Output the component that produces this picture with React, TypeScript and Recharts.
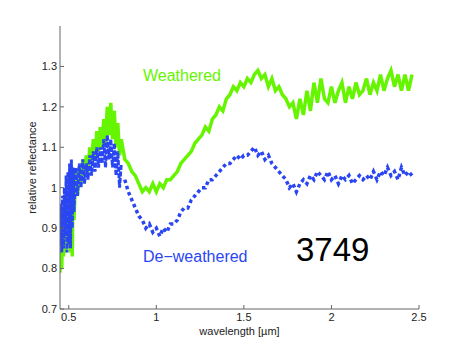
import { LineChart, Line, XAxis, YAxis } from "recharts";

// wavelength grid (µm): dense part of the visible range, then the rest
const wlVis = [
  0.45, 0.455, 0.46, 0.465, 0.47, 0.475, 0.48, 0.485, 0.49, 0.495, 0.5, 0.505,
  0.51, 0.515, 0.52, 0.525, 0.53, 0.54, 0.55, 0.56, 0.57, 0.58, 0.59, 0.6,
  0.61, 0.62, 0.63, 0.64, 0.65, 0.66, 0.67, 0.68, 0.69, 0.7, 0.71, 0.72,
  0.73, 0.74, 0.75, 0.76, 0.77, 0.78, 0.79, 0.8,
];
const wlNir = [
  0.82, 0.84, 0.86, 0.88, 0.9, 0.92, 0.94, 0.96, 0.98, 1.0, 1.02, 1.04,
  1.06, 1.08, 1.1, 1.12, 1.14, 1.16, 1.18, 1.2, 1.22, 1.24, 1.26, 1.28,
  1.3, 1.32, 1.34, 1.36, 1.38, 1.4, 1.42, 1.44, 1.46, 1.48, 1.5, 1.52,
  1.54, 1.56, 1.58, 1.6, 1.62, 1.64, 1.66, 1.68, 1.7, 1.72, 1.74, 1.76,
  1.78, 1.8, 1.82, 1.84, 1.86, 1.88, 1.9, 1.92, 1.94, 1.96, 1.98, 2.0,
  2.02, 2.04, 2.06, 2.08, 2.1, 2.12, 2.14, 2.16, 2.18, 2.2, 2.22, 2.24,
  2.26, 2.28, 2.3, 2.32, 2.34, 2.36, 2.38, 2.4, 2.42, 2.44, 2.46,
];

const weatheredVis = [
  0.79, 0.88, 0.8, 0.92, 0.83, 0.95, 0.84, 0.97, 0.86, 0.99, 0.85, 1.0,
  0.84, 1.01, 0.83, 1.02, 0.92, 1.04, 0.98, 1.05, 1.01, 1.07, 1.03, 1.08,
  1.04, 1.1, 1.06, 1.12, 1.07, 1.14, 1.09, 1.15, 1.1, 1.17, 1.11, 1.2,
  1.13, 1.21, 1.12, 1.19, 1.1, 1.16, 1.08, 1.12,
];
const weatheredNir = [
  1.07, 1.06, 1.04, 1.03, 1.01, 0.99, 1.0, 0.99, 1.01, 0.99, 1.01, 1.0,
  1.02, 1.02, 1.03, 1.04, 1.06, 1.07, 1.08, 1.09, 1.11, 1.12, 1.13, 1.15,
  1.14, 1.17, 1.18, 1.2, 1.19, 1.22, 1.23, 1.25, 1.24, 1.26, 1.25, 1.27,
  1.26, 1.28, 1.29, 1.27, 1.28, 1.25, 1.27, 1.24, 1.25, 1.23, 1.22, 1.2,
  1.21, 1.17, 1.22, 1.18, 1.24, 1.19, 1.26, 1.21, 1.27, 1.22, 1.21, 1.25,
  1.21, 1.24, 1.26, 1.21, 1.25, 1.22, 1.26, 1.23, 1.24, 1.27, 1.23, 1.26,
  1.24, 1.28, 1.24, 1.27, 1.29, 1.25, 1.28, 1.24, 1.28, 1.24, 1.28,
];

const deweatheredVis = [
  0.86, 0.96, 0.84, 0.98, 0.85, 1.0, 0.88, 1.03, 0.84, 1.04, 0.86, 1.06,
  0.85, 1.07, 0.9, 1.05, 0.94, 1.05, 0.98, 1.06, 1.0, 1.07, 1.01, 1.06,
  1.02, 1.08, 1.03, 1.09, 1.04, 1.1, 1.05, 1.1, 1.06, 1.12, 1.05, 1.13,
  1.07, 1.12, 1.05, 1.11, 1.03, 1.09, 1.0, 1.06,
];
const deweatheredNir = [
  1.02, 0.99, 0.97, 0.95, 0.93, 0.92, 0.9, 0.91, 0.89, 0.9, 0.88, 0.9,
  0.89, 0.91, 0.91, 0.92, 0.94, 0.95, 0.95, 0.97, 0.98, 0.99, 1.0, 1.0,
  1.02, 1.02, 1.03, 1.04, 1.05, 1.06, 1.06, 1.07, 1.08, 1.07, 1.08, 1.08,
  1.09, 1.1, 1.08, 1.09, 1.07, 1.08, 1.06, 1.05, 1.04, 1.03, 1.02, 1.0,
  1.01, 0.99, 1.01, 1.02, 1.01, 1.03, 1.02, 1.04, 1.03, 1.02, 1.04, 1.02,
  1.03, 1.01, 1.03, 1.02, 1.03, 1.01, 1.02, 1.03, 1.02, 1.03, 1.02, 1.04,
  1.02, 1.04, 1.03, 1.05, 1.03, 1.04, 1.02, 1.05, 1.03, 1.04, 1.03,
];

const xTicks = [0.5, 1, 1.5, 2, 2.5];
const yTicks = [0.7, 0.8, 0.9, 1, 1.1, 1.2, 1.3];

const wl = [...wlVis, ...wlNir];
const weathered = wl.map((w, i) => ({ w, r: [...weatheredVis, ...weatheredNir][i] }));
// the dense visible part of the de-weathered spectrum reads as a solid band
const deweatheredBand = wlVis.map((w, i) => ({ w, r: deweatheredVis[i] }));
const deweatheredDots = wlNir.map((w, i) => ({ w, r: deweatheredNir[i] }));

const GREEN = "#66f500";
const BLUE = "#2a46f2";
const AXIS = "#666";
const FONT = "'Liberation Sans', Arial, Helvetica, sans-serif";
const tickStyle = { fill: "#222", fontSize: 11, fontFamily: FONT };
const noTick = () => <g />;

export default function App() {
  return (
    <div style={{ position: "absolute", left: 0, top: 0, width: 463, height: 348, background: "#fff" }}>
      <LineChart
        width={463}
        height={348}
        margin={{ top: 26, right: 44, bottom: 9, left: 30 }}
      >
        <XAxis
          dataKey="w"
          type="number"
          domain={[0.45, 2.5]}
          ticks={xTicks}
          interval={0}
          height={30}
          stroke={AXIS}
          tickSize={-4}
          tickMargin={8}
          tick={tickStyle}
          allowDataOverflow
        />
        <XAxis
          xAxisId="top"
          orientation="top"
          type="number"
          domain={[0.45, 2.5]}
          ticks={xTicks}
          interval={0}
          height={0}
          stroke={AXIS}
          tickSize={-4}
          tick={noTick}
          allowDataOverflow
        />
        <YAxis
          type="number"
          domain={[0.7, 1.4]}
          ticks={yTicks}
          interval={0}
          width={30}
          stroke={AXIS}
          tickSize={-4}
          tickMargin={7}
          tick={tickStyle}
          allowDataOverflow
        />
        <YAxis
          yAxisId="right"
          orientation="right"
          type="number"
          domain={[0.7, 1.4]}
          ticks={yTicks}
          interval={0}
          width={0}
          stroke={AXIS}
          tickSize={-4}
          tick={noTick}
          allowDataOverflow
        />
        <Line
          data={weathered}
          dataKey="r"
          type="linear"
          stroke={GREEN}
          strokeWidth={3.5}
          dot={false}
          isAnimationActive={false}
        />
        <Line
          data={deweatheredBand}
          dataKey="r"
          type="linear"
          stroke={BLUE}
          strokeWidth={3}
          strokeDasharray="5 1.5"
          dot={false}
          isAnimationActive={false}
        />
        <Line
          data={deweatheredDots}
          dataKey="r"
          type="linear"
          stroke={BLUE}
          strokeWidth={3.5}
          strokeDasharray="3.5 3"
          dot={false}
          isAnimationActive={false}
        />
      </LineChart>
      <svg
        width={463}
        height={348}
        style={{ position: "absolute", left: 0, top: 0, pointerEvents: "none" }}
        fontFamily={FONT}
      >
        <text x={143} y={81} fontSize={16} fill={GREEN}>Weathered</text>
        <text x={143} y={262} fontSize={16} fill={BLUE}>De−weathered</text>
        <text x={296} y={261} fontSize={33} fill="#000">3749</text>
        <text x={239.5} y={335} fontSize={11} fill="#222" textAnchor="middle">wavelength [µm]</text>
        <text
          x={0}
          y={0}
          fontSize={11}
          fill="#222"
          textAnchor="middle"
          transform="translate(36 167.5) rotate(-90)"
        >
          relative reflectance
        </text>
      </svg>
    </div>
  );
}
